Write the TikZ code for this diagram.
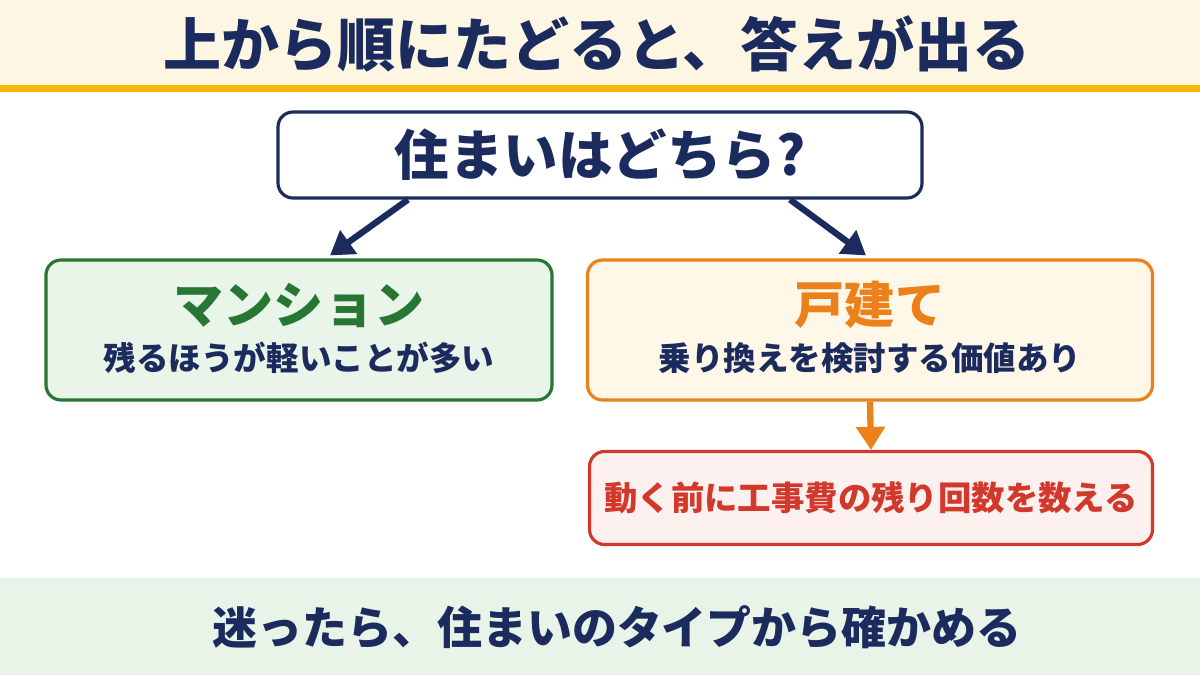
\documentclass[tikz,border=0pt]{standalone}
\usepackage{fontspec}
\setmainfont{Noto Sans CJK JP}[BoldFont=* Black]
\usetikzlibrary{positioning,arrows.meta}
\definecolor{navy}{RGB}{27,43,94}
\definecolor{creamtop}{RGB}{253,246,226}
\definecolor{goldline}{RGB}{247,183,10}
\definecolor{leafgreen}{RGB}{40,118,52}
\definecolor{leaffill}{RGB}{234,245,234}
\definecolor{carrot}{RGB}{236,128,26}
\definecolor{carrotfill}{RGB}{255,248,232}
\definecolor{brick}{RGB}{210,56,44}
\definecolor{brickfill}{RGB}{253,241,239}
\definecolor{mintband}{RGB}{233,244,233}
\newcommand{\jpsize}[1]{\fontsize{#1}{#1}\selectfont\bfseries}

\begin{document}
\begin{tikzpicture}[
    box/.style={draw,line width=1.8pt,rounded corners=0.3cm,inner sep=0pt},
    label/.style={inner sep=0pt,text=navy},
    link/.style={line width=3.6pt,-{Triangle[width=0.56cm,length=0.46cm]}}]
    \useasboundingbox (0,0) rectangle (24,13.5);
    \fill[white] (0,0) rectangle (24,13.5);
    \fill[creamtop] (0,11.8) rectangle (24,13.5);
    \fill[goldline] (0,11.66) rectangle (24,11.8);
    \fill[mintband] (0,0) rectangle (24,1.94);
    \node[label,font=\jpsize{33}] (headline) at (11.94,12.62) {上から順にたどると、答えが出る};
    \node[box,draw=navy,fill=white,minimum width=12.88cm,minimum height=1.72cm] (q) at (12,10.4) {};
    \node[label,font=\jpsize{31}] (qtext) at (q.center) {住まいはどちら?};
    \node[box,draw=leafgreen,fill=leaffill,minimum width=10.12cm,minimum height=2.8cm] (man) at (5.98,6.9) {};
    \node[label,text=leafgreen,font=\jpsize{28.5}] (mantitle) at ([yshift=0.5cm]man.center) {マンション};
    \node[label,font=\jpsize{18.5}] (mansub) at ([yshift=-0.56cm]man.center) {残るほうが軽いことが多い};
    \node[box,draw=carrot,fill=carrotfill,minimum width=11.3cm,minimum height=2.8cm] (home) at (17.4,6.9) {};
    \node[label,text=carrot,font=\jpsize{28.5}] (hometitle) at ([yshift=0.5cm]home.center) {戸建て};
    \node[label,font=\jpsize{18.5}] (homesub) at ([yshift=-0.56cm]home.center) {乗り換えを検討する価値あり};
    \node[box,draw=brick,fill=brickfill,minimum width=11.26cm,minimum height=1.86cm] (count) at (17.42,3.54) {};
    \node[label,text=brick,font=\jpsize{19}] (counttext) at (count.center) {動く前に工事費の残り回数を数える};
    \node[label,font=\jpsize{25.6}] (footer) at (12.34,0.96) {迷ったら、住まいのタイプから確かめる};
    \draw[link,navy] ([xshift=-3.84cm]q.south) -- ([xshift=0.62cm,yshift=0.06cm]man.north);
    \draw[link,navy] ([xshift=3.8cm]q.south) -- ([xshift=-0.08cm,yshift=0.06cm]home.north);
    \draw[link,carrot] (home.south) -- (count.north);
\end{tikzpicture}
\end{document}
